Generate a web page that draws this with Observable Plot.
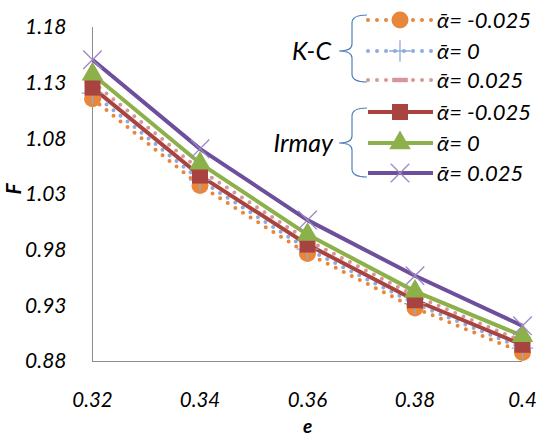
<!DOCTYPE html>
<html><head><meta charset="utf-8">
<script src="https://cdn.jsdelivr.net/npm/d3@7"></script>
<script src="https://cdn.jsdelivr.net/npm/@observablehq/plot@0.6"></script>
<style>body{margin:0;background:#fff}</style>
</head><body><div id="chart"></div>
<script>
const e = [0.32, 0.34, 0.36, 0.38, 0.40];
const kcMinus = [1.116, 1.038, 0.977, 0.928, 0.888];
const kcZero  = [1.121, 1.043, 0.981, 0.932, 0.892];
const kcPlus  = [1.131, 1.052, 0.989, 0.939, 0.898];
const irMinus = [1.126, 1.047, 0.985, 0.935, 0.895];
const irZero  = [1.138, 1.058, 0.994, 0.943, 0.903];
const irPlus  = [1.151, 1.071, 1.007, 0.957, 0.912];
const yTicks = [0.88, 0.93, 0.98, 1.03, 1.08, 1.13, 1.18];
const xTicks = [0.32, 0.34, 0.36, 0.38, 0.40];
const alphaLabels = ["-0.025", "0", "0.025"];

const FONT = "Lato, 'Open Sans', sans-serif";
const dash = {draw(ctx, size){ const w = Math.sqrt(size)*0.55; ctx.moveTo(-w,-2.2); ctx.lineTo(w,-2.2); ctx.lineTo(w,2.2); ctx.lineTo(-w,2.2); ctx.closePath(); }};

const series = [
  {name:"K-C", a:0, vals:kcMinus, color:"#E8873A", dotted:true, symbol:"circle", r:8.5, fill:true},
  {name:"K-C", a:1, vals:kcZero, color:"#8FAADC", dotted:true, symbol:"plus", r:7, fill:false},
  {name:"K-C", a:2, vals:kcPlus, color:"#D99694", dotted:true, symbol:dash, r:8, fill:true},
  {name:"Irmay", a:0, vals:irMinus, color:"#A9433F", dotted:false, symbol:"square", r:9, fill:true},
  {name:"Irmay", a:1, vals:irZero, color:"#8CB04A", dotted:false, symbol:"triangle", r:8, fill:true},
  {name:"Irmay", a:2, vals:irPlus, color:"#6E4F9B", dotted:false, symbol:"times", r:8.5, fill:false, mcolor:"#9C86C4"}
];

const marks = [];
marks.push(Plot.ruleX([0.32], {stroke:"#8c8c8c", strokeWidth:1}));
marks.push(Plot.ruleY([0.88], {stroke:"#8c8c8c", strokeWidth:1}));
for (const s of series) {
  const data = e.map((x,i)=>({x, y:s.vals[i]}));
  marks.push(Plot.line(data, {x:"x", y:"y", stroke:s.color, strokeWidth:4,
    strokeDasharray: s.dotted ? "0,9" : null, strokeLinecap: s.dotted ? "round" : "butt", curve:"linear"}));
}
for (const s of series) {
  const data = e.map((x,i)=>({x, y:s.vals[i]}));
  marks.push(Plot.dot(data, {x:"x", y:"y", symbol:()=>s.symbol, r:s.r,
    fill: s.fill ? s.color : "none", stroke: s.fill ? "none" : (s.mcolor||s.color), strokeWidth: s.fill?0:1.3}));
}
marks.push(Plot.axisY({ticks:yTicks, tickSize:0, tickPadding:26, tickFormat:d3.format(".2f"), fontSize:21, fontStyle:"italic", fontFamily:FONT, label:null}));
marks.push(Plot.axisX({ticks:xTicks, tickSize:0, tickPadding:31, tickFormat:d=>String(+d.toFixed(2)), fontSize:20.5, fontStyle:"italic", fontFamily:FONT, label:null}));
marks.push(Plot.text(["e"], {frameAnchor:"bottom", dy:65, lineAnchor:"middle", fontSize:19, fontStyle:"italic", fontWeight:"bold", fontFamily:FONT}));
marks.push(Plot.text(["F"], {frameAnchor:"left", dx:-78, rotate:-90, fontSize:21, fontStyle:"italic", fontWeight:"bold", fontFamily:FONT}));

const plot = Plot.plot({
  width:544, height:437,
  marginLeft:92, marginRight:22, marginTop:27, marginBottom:76,
  x:{domain:[0.32,0.40]},
  y:{domain:[0.88,1.18]},
  style:{fontFamily:FONT, color:"#000", background:"#fff", overflow:"visible"},
  marks
});
document.getElementById("chart").appendChild(plot);

// Legend
const svg = d3.select(plot);
const g = svg.append("g").attr("font-family", FONT).attr("font-style","italic").attr("text-anchor","start");
const rowsY = [20, 51, 80, 112, 143, 173];
const braceColor = "#4F81BD";
function brace(top, mid, bottom){
  return `M367,${top} Q352,${top} 352,${top+8} L352,${mid-7} Q352,${mid} 339,${mid} Q352,${mid} 352,${mid+7} L352,${bottom-8} Q352,${bottom} 367,${bottom}`;
}
g.append("path").attr("d", brace(15, 51, 82)).attr("fill","none").attr("stroke",braceColor).attr("stroke-width",1.2);
g.append("path").attr("d", brace(108, 143, 177)).attr("fill","none").attr("stroke",braceColor).attr("stroke-width",1.2);
g.append("text").attr("x",331).attr("y",51).attr("dy","0.35em").attr("text-anchor","end").attr("font-size",25).text("K-C");
g.append("text").attr("x",333).attr("y",143).attr("dy","0.35em").attr("text-anchor","end").attr("font-size",25).text("Irmay");
series.forEach((s,i)=>{
  const y = rowsY[i];
  g.append("line").attr("x1",368).attr("x2",433).attr("y1",y).attr("y2",y)
    .attr("stroke",s.color).attr("stroke-width",4)
    .attr("stroke-dasharray", s.dotted ? "0,9" : null)
    .attr("stroke-linecap", s.dotted ? "round" : "butt");
  const type = s.symbol === "circle" ? d3.symbolCircle : s.symbol === "plus" ? d3.symbolPlus :
    s.symbol === "square" ? d3.symbolSquare : s.symbol === "triangle" ? d3.symbolTriangle :
    s.symbol === "times" ? d3.symbolTimes : s.symbol;
  g.append("path").attr("transform",`translate(400,${y})`)
    .attr("d", d3.symbol(type, s.r*s.r*Math.PI)())
    .attr("fill", s.fill ? s.color : "none")
    .attr("stroke", s.fill ? "none" : (s.mcolor||s.color)).attr("stroke-width",1.3);
  g.append("text").attr("x",437).attr("y",y).attr("dy","0.35em").attr("font-size",22).attr("text-anchor","start")
    .text("\u1FB1= " + alphaLabels[s.a]);
});
</script></body></html>
